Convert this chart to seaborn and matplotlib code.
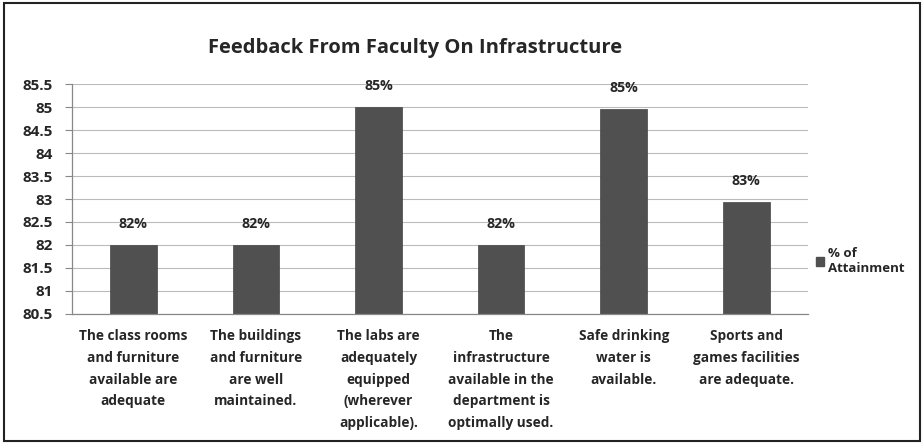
import matplotlib
matplotlib.use("Agg")
import matplotlib.pyplot as plt
import seaborn as sns
from matplotlib.patches import Patch, Rectangle

categories = [
    "The class rooms\nand furniture\navailable are\nadequate",
    "The buildings\nand furniture\nare well\nmaintained.",
    "The labs are\nadequately\nequipped\n(wherever\napplicable).",
    "The\ninfrastructure\navailable in the\ndepartment is\noptimally used.",
    "Safe drinking\nwater is\navailable.",
    "Sports and\ngames facilities\nare adequate.",
]
values = [82, 82, 85, 82, 84.95, 82.94]
bar_labels = ["82%", "82%", "85%", "82%", "85%", "83%"]
y_ticks = [80.5, 81, 81.5, 82, 82.5, 83, 83.5, 84, 84.5, 85, 85.5]
y_tick_labels = ["80.5", "81", "81.5", "82", "82.5", "83", "83.5", "84", "84.5", "85", "85.5"]

sns.set_style("white")
plt.rcParams["font.family"] = ["Open Sans", "DejaVu Sans"]
plt.rcParams["font.weight"] = "bold"

bar_color = "#505050"

fig = plt.figure(figsize=(9.24, 4.44), dpi=100)
ax = fig.add_axes([0.078, 0.2928, 0.796, 0.518])

sns.barplot(x=categories, y=values, color=bar_color, width=0.38, ax=ax,
            edgecolor="#444444", linewidth=0.5)

ax.set_ylim(80.5, 85.5)
ax.set_yticks(y_ticks)
ax.set_yticklabels(y_tick_labels, fontsize=11, fontweight="bold")
ax.set_xticks(range(len(categories)))
ax.set_xticklabels(categories, fontsize=9.8, fontweight="bold", linespacing=1.7)
ax.set_xlim(-0.5, len(categories) - 0.5)
ax.tick_params(axis="x", length=0, pad=11)
ax.tick_params(axis="y", length=5, color="#888888", left=True, direction="out", pad=9)
ax.set_xlabel("")
ax.set_ylabel("")

ax.yaxis.grid(True, color="#bbbbbb", linewidth=0.8)
ax.set_axisbelow(True)
for side in ["top", "right"]:
    ax.spines[side].set_visible(False)
for side in ["left", "bottom"]:
    ax.spines[side].set_color("#888888")
    ax.spines[side].set_linewidth(0.9)

ax.bar_label(ax.containers[0], labels=bar_labels, padding=10,
             fontsize=10.2, fontweight="bold")

fig.text(0.449, 0.892, "Feedback From Faculty On Infrastructure",
         ha="center", va="center", fontsize=14.5, fontweight="bold")

handle = Patch(facecolor=bar_color, edgecolor=bar_color)
ax.legend([handle], ["% of\nAttainment"], loc="center left",
          bbox_to_anchor=(0.995, 0.23), frameon=False, handlelength=0.6,
          handleheight=0.6, handletextpad=0.3, labelspacing=0.3,
          prop={"size": 9.5, "weight": "bold"})

fig.patches.append(Rectangle((0.004, 0.006), 0.992, 0.988, transform=fig.transFigure,
                             fill=False, edgecolor="#222222", linewidth=1.5))

fig.savefig("out.png", dpi=100)
